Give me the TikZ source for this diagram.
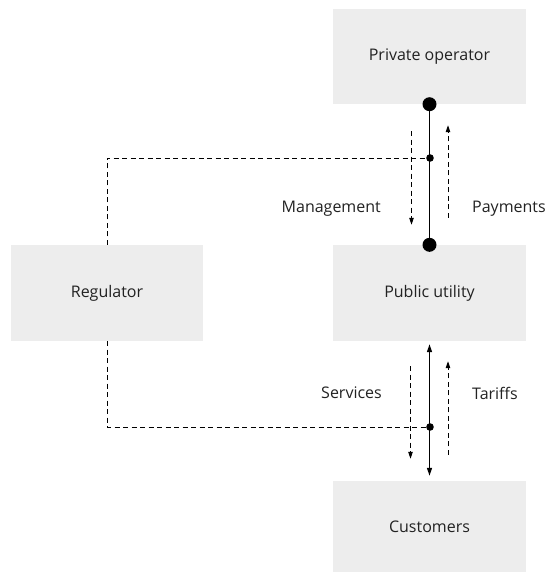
\documentclass[tikz,border=0pt]{standalone}
\usepackage{fontspec}
\setmainfont{Open Sans}
\usetikzlibrary{arrows.meta}
\definecolor{boxgray}{HTML}{EDEDED}
\definecolor{inkgray}{HTML}{222222}
\tikzset{
  box/.style={shape=rectangle,fill=boxgray,inner sep=0pt,minimum width=193pt,minimum height=95pt,text=inkgray,font=\fontsize{16}{18}\selectfont},
  lbl/.style={text=inkgray,font=\fontsize{16}{18}\selectfont,inner sep=0pt},
  flow/.style={dash pattern=on 5pt off 3.5pt,line width=1pt,-{Triangle[length=7pt,width=4.5pt]}},
  link/.style={dash pattern=on 5pt off 3.5pt,line width=1pt},
  main/.style={line width=1.5pt}
}
\begin{document}
\begin{tikzpicture}[x=1pt,y=-1pt]
\useasboundingbox (0,0) rectangle (546,573);
\node(operator) [box] at (429.5,56.5) {Private operator};
\node(utility) [box,minimum height=96pt] at (429.5,293) {Public utility};
\node(regulator) [box,minimum width=192pt,minimum height=96pt] at (107,293) {Regulator};
\node(customers) [box,minimum height=91pt] at (429.5,526.5) {Customers};
\coordinate(upjoin) at (430,158);
\coordinate(downjoin) at (430,427);
% operator -- utility
\draw [main] (operator.south) -- (utility.north);
\fill (operator.south) circle (7pt);
\fill (utility.north) circle (7pt);
\fill (upjoin) circle (3.8pt);
\draw [link] (regulator.north) |- (upjoin);
\draw [flow] ([xshift=-18pt,yshift=-27pt]operator.south) -- ([xshift=-18pt,yshift=20pt]utility.north);
\draw [flow] ([xshift=18.5pt,yshift=27pt]utility.north) -- ([xshift=18.5pt,yshift=-21pt]operator.south);
\node(management) [lbl,anchor=east] at (381,209) {Management};
\node(payments) [lbl,anchor=west] at (472,209) {Payments};
% utility -- customers
\draw [main,{Triangle[length=8pt,width=5pt]}-{Triangle[length=8pt,width=5pt]}] ([yshift=-3pt]utility.south) -- ([yshift=5pt]customers.north);
\fill (downjoin) circle (3.8pt);
\draw [link] (regulator.south) |- (downjoin);
\draw [flow] ([xshift=-19pt,yshift=-25pt]utility.south) -- ([xshift=-19pt,yshift=22pt]customers.north);
\draw [flow] ([xshift=18.5pt,yshift=26pt]customers.north) -- ([xshift=18.5pt,yshift=-20pt]utility.south);
\node(services) [lbl,anchor=east] at (382,393) {Services};
\node(tariffs) [lbl,anchor=west] at (472,393) {Tariffs};
\end{tikzpicture}
\end{document}
